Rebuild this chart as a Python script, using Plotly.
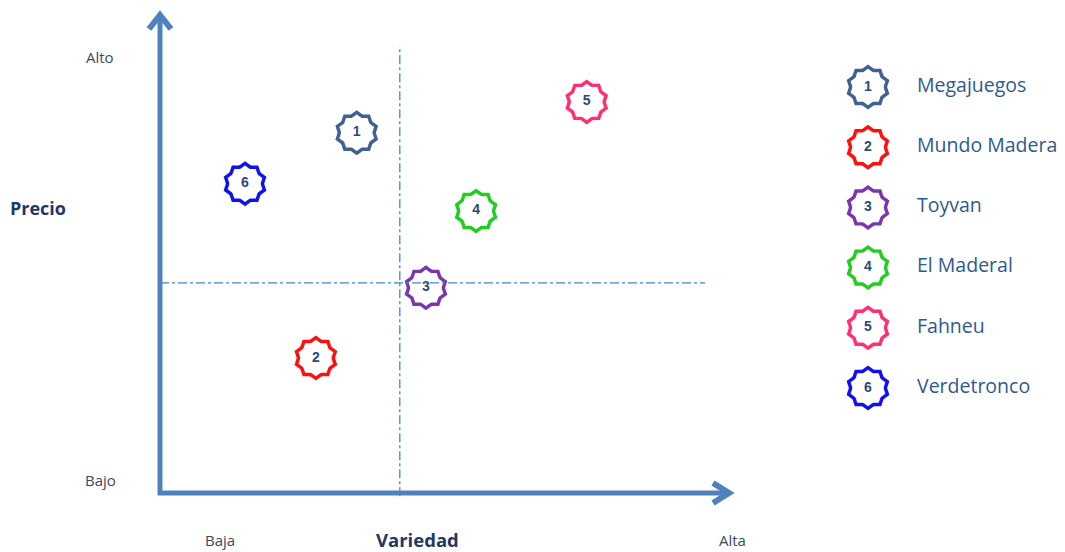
import plotly.graph_objects as go

# ---- data ----
ids = ["1", "2", "3", "4", "5", "6"]
names = ["Megajuegos", "Mundo Madera", "Toyvan", "El Maderal", "Fahneu", "Verdetronco"]
variedad = [3.61, 2.86, 4.88, 5.80, 7.83, 1.56]
precio = [8.06, 3.02, 4.59, 6.31, 8.75, 6.92]
colors = ["#3f6290", "#ff1010", "#7a35b0", "#22cc22", "#ff2f72", "#1010f0"]

x_mid = 4.4
y_mid = 4.70

# pixel-to-unit layout constants
W, H = 1065, 552
px_x = 54.5   # pixels per unit (x)
px_y = 44.7   # pixels per unit (y)
x0_px, y0_px = 160, 493
xr = [-x0_px / px_x, (W - x0_px) / px_x]
yr = [-(H - y0_px) / px_y, y0_px / px_y]

leg_x = (868 - x0_px) / px_x
leg_tx = (917 - x0_px) / px_x
leg_top = (y0_px - 87) / px_y
leg_step = 60.2 / px_y
leg_y = [leg_top - i * leg_step for i in range(len(ids))]

axis_col = "#4f81bd"
dash_col = "#3f88cc"
num_col = "#2a4a7a"

fig = go.Figure()


def stars(xs, ys, cols, labels):
    # colored star (two pentagons) then white interior
    for size, fill in [(45, cols), (36.5, "white")]:
        for ang in [0, 36]:
            fig.add_trace(go.Scatter(
                x=xs, y=ys, mode="markers", hoverinfo="skip", showlegend=False,
                marker=dict(symbol="pentagon", size=size, angle=ang, color=fill,
                            line=dict(width=0))))
    fig.add_trace(go.Scatter(
        x=xs, y=ys, mode="text", text=[f"<b>{i}</b>" for i in labels],
        textfont=dict(size=14, color=num_col, family="Liberation Sans"),
        hoverinfo="skip", showlegend=False))


# reference lines
fig.add_shape(type="line", x0=x_mid, x1=x_mid, y0=-0.07, y1=10.0,
              line=dict(color=dash_col, width=1.3, dash="dashdot"))
fig.add_shape(type="line", x0=0, x1=10.0, y0=y_mid, y1=y_mid,
              line=dict(color=dash_col, width=1.3, dash="dashdot"))

# axis arrows (shaft + open chevron head)
y_tip = (y0_px - 15) / px_y
x_tip = (729 - x0_px) / px_x
back_x = 16 / px_x
side_y = 10 / px_y
back_y = 14 / px_y
side_x = 11 / px_x
fig.add_shape(type="line", x0=0, x1=0, y0=-2 / px_y, y1=y_tip - 1 / px_y,
              line=dict(color=axis_col, width=5))
fig.add_shape(type="line", x0=-2 / px_x, x1=x_tip - 1 / px_x, y0=0, y1=0,
              line=dict(color=axis_col, width=5))
fig.add_shape(type="path",
              path=f"M {-side_x} {y_tip - back_y} L 0 {y_tip} L {side_x} {y_tip - back_y}",
              line=dict(color=axis_col, width=6))
fig.add_shape(type="path",
              path=f"M {x_tip - back_x} {side_y} L {x_tip} 0 L {x_tip - back_x} {-side_y}",
              line=dict(color=axis_col, width=6))

stars(variedad, precio, colors, ids)
stars([leg_x] * len(ids), leg_y, colors, ids)

fig.add_trace(go.Scatter(
    x=[leg_tx] * len(ids), y=leg_y, mode="text", text=names,
    textposition="middle right",
    textfont=dict(size=19.5, color="#2e5a8e", family="Open Sans"),
    hoverinfo="skip", showlegend=False))

lab_col = "#3b4a5e"
labels = [
    ("Alto", -1.10, 9.75, 15, False),
    ("Bajo", -1.10, 0.29, 15, False),
    ("Precio", -2.24, 6.37, 18, True),
    ("Baja", 1.10, -1.05, 15, False),
    ("Variedad", 4.72, -1.05, 18.5, True),
    ("Alta", 10.51, -1.05, 15, False),
]
for t, x, y, s, b in labels:
    fig.add_annotation(x=x, y=y, xref="x", yref="y", showarrow=False,
                       text=f"<b>{t}</b>" if b else t,
                       font=dict(size=s, color="#1f3864" if b else lab_col,
                                 family="Open Sans"))

fig.update_layout(
    width=W, height=H, margin=dict(l=0, r=0, t=0, b=0),
    paper_bgcolor="white", plot_bgcolor="white", showlegend=False,
    xaxis=dict(range=xr, visible=False, fixedrange=True),
    yaxis=dict(range=yr, visible=False, fixedrange=True),
)

fig.write_html("out.html")
